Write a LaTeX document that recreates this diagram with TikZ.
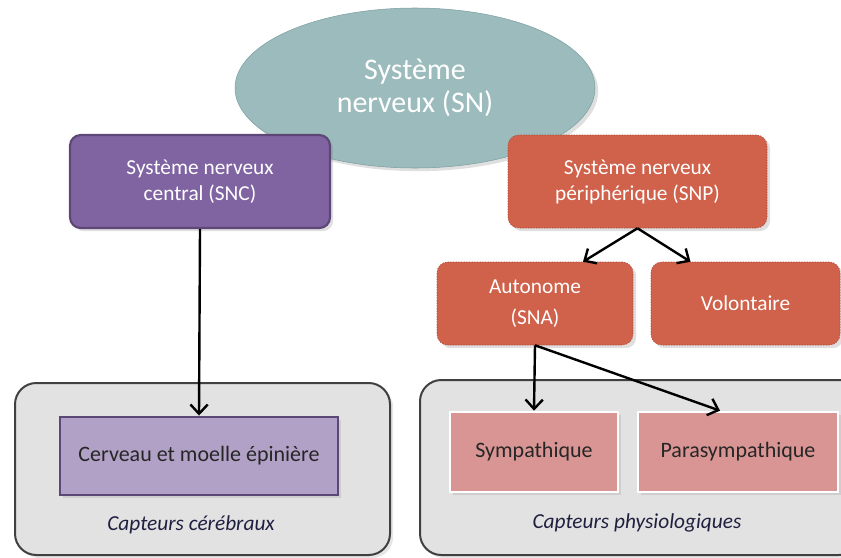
\documentclass[tikz,border=0pt]{standalone}
\usepackage{fontspec}
\setmainfont{Carlito}
\usepackage{tikz}
\usetikzlibrary{arrows.meta, positioning, shapes.geometric, shadows}

\definecolor{snteal}{RGB}{155, 187, 188}
\definecolor{sntealdark}{RGB}{125, 160, 161}
\definecolor{sncpurple}{RGB}{128, 100, 162}
\definecolor{sncpurpledark}{RGB}{92, 71, 118}
\definecolor{snpred}{RGB}{208, 97, 74}
\definecolor{snpreddark}{RGB}{172, 72, 54}
\definecolor{lilac}{RGB}{178, 161, 199}
\definecolor{rosebox}{RGB}{217, 149, 148}
\definecolor{panelgray}{RGB}{226, 226, 226}
\definecolor{paneledge}{RGB}{64, 64, 64}
\definecolor{captionblue}{RGB}{31, 31, 63}

\begin{document}
\begin{tikzpicture}[
                x=0.75pt, y=-0.75pt,
                root/.style={
                    ellipse,
                    draw=sntealdark,
                    fill=snteal,
                    minimum width=360*0.75pt,
                    minimum height=160*0.75pt,
                    text=white,
                    font=\fontsize{22.5}{25}\selectfont,
                    align=center,
                    drop shadow={opacity=0.25}
                },
                topbox/.style={
                    rectangle,
                    rounded corners=8pt,
                    text=white,
                    text centered,
                    font=\fontsize{16}{19.5}\selectfont,
                    align=center,
                    drop shadow={opacity=0.25}
                },
                central/.style={topbox, draw=sncpurpledark, line width=1.6pt, fill=sncpurple},
                periph/.style={topbox, draw=snpreddark, dash pattern=on 1pt off 1pt, fill=snpred},
                panel/.style={
                    rectangle,
                    rounded corners=16pt,
                    draw=paneledge,
                    line width=1.5pt,
                    fill=panelgray,
                    drop shadow={opacity=0.2}
                },
                leaf/.style={
                    rectangle,
                    text=black!85,
                    font=\fontsize{16.5}{19}\selectfont,
                    align=center,
                    drop shadow={opacity=0.2}
                },
                caption/.style={font=\itshape\fontsize{16}{18}\selectfont, text=captionblue},
                arrow/.style={-{Straight Barb[length=7pt,width=13pt]}, line width=1.8pt, black}
            ]

            \useasboundingbox (0,0) rectangle (841,557);

            % Panels
            \node (leftpanel) [panel, minimum width=375*0.75pt, minimum height=172*0.75pt]
            at (202.5,469) {};
            \node (rightpanel) [panel, minimum width=440*0.75pt, minimum height=175*0.75pt]
            at (640,467.5) {};

            % Root
            \node (sn) [root] at (415,88) {\raisebox{-4pt}{\shortstack{Système\\[2pt]nerveux (SN)}}};

            % Top Row
            \node (snc) [central, minimum width=260*0.75pt, minimum height=93*0.75pt]
            at (200,181.5) {Système nerveux\\central (SNC)};

            \node (snp) [periph, minimum width=259*0.75pt, minimum height=93*0.75pt]
            at (637.5,181.5) {Système nerveux\\périphérique (SNP)};

            % Middle Row
            \node (sna) [periph, minimum width=196*0.75pt, minimum height=83*0.75pt]
            at (535,303.5) {Autonome\\[4pt](SNA)};

            \node (volontaire) [periph, minimum width=189*0.75pt, minimum height=83*0.75pt]
            at (745.5,303.5) {Volontaire};

            % Bottom Row
            \node (cerveau) [leaf, draw=sncpurpledark, line width=2.2pt, fill=lilac,
            minimum width=278*0.75pt, minimum height=78*0.75pt]
            at (199,456) {Cerveau et moelle épinière};

            \node (sympa) [leaf, draw=white, line width=2pt, fill=rosebox,
            minimum width=168*0.75pt, minimum height=80*0.75pt]
            at (534,452) {Sympathique};

            \node (parasympa) [leaf, draw=white, line width=2pt, fill=rosebox,
            minimum width=200*0.75pt, minimum height=80*0.75pt]
            at (738,452) {Parasympathique};

            % Captions
            \node (capcerebral) [caption] at (191,525) {Capteurs cérébraux};
            \node (capphysio) [caption] at (637,523) {Capteurs physiologiques};

            % Arrows
            \draw [arrow] (snc.south) -- (cerveau.north);
            \draw [arrow] (snp.south) -- ([xshift=48*0.75pt]sna.north);
            \draw [arrow] (snp.south) -- ([xshift=-55*0.75pt]volontaire.north);
            \draw [arrow] (sna.south) -- (sympa.north);
            \draw [arrow] (sna.south) -- ([xshift=-18*0.75pt]parasympa.north);

            \end{tikzpicture}
\end{document}
